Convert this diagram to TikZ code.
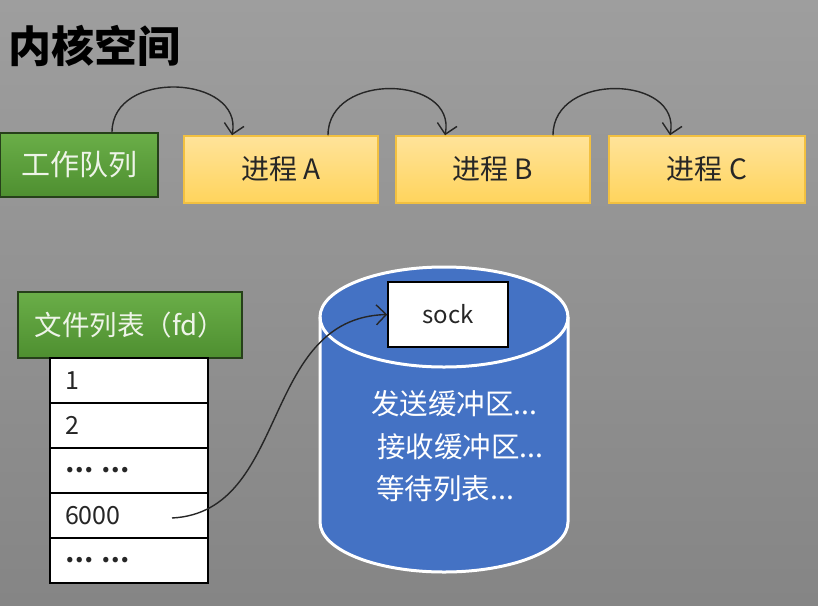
\documentclass[tikz,border=0pt]{standalone}
\usepackage{fontspec}
\setmainfont{Noto Sans CJK SC}
\usetikzlibrary{arrows.meta}
\definecolor{bgtop}{HTML}{9E9E9E}
\definecolor{bgbot}{HTML}{858585}
\definecolor{gtop}{HTML}{6AAE48}
\definecolor{gbot}{HTML}{4E8F30}
\definecolor{gline}{HTML}{26401A}
\definecolor{gtext}{HTML}{EEF4E8}
\definecolor{ytop}{HTML}{FFE39A}
\definecolor{ybot}{HTML}{FFD45C}
\definecolor{yline}{HTML}{F2C040}
\definecolor{cylblue}{HTML}{4472C4}
\tikzset{
  greenbox/.style={draw=gline, line width=1.5pt, top color=gtop, bottom color=gbot,
    text=gtext, font=\fontsize{29}{32}\selectfont, inner sep=0pt},
  procbox/.style={draw=yline, line width=1.5pt, top color=ytop, bottom color=ybot,
    text=black!85, font=\fontsize{28}{32}\selectfont, minimum height=67pt, inner sep=0pt},
  fdrow/.style={draw=black, line width=1.2pt, fill=white, minimum width=158pt, minimum height=45pt,
    text width=128pt, inner xsep=15pt, align=left, font=\fontsize{25}{28}\selectfont, text=black!85},
  curvearrow/.style={draw=black!85, line width=1.4pt, -{Straight Barb[length=10pt,width=20pt,line width=1.4pt]}},
  cyltext/.style={text=white, font=\fontsize{28.5}{32}\selectfont, anchor=west, inner sep=0pt}
}
\begin{document}
\begin{tikzpicture}[x=1pt,y=-1pt]
\shade[top color=bgtop, bottom color=bgbot] (0,0) rectangle (818,605);
\useasboundingbox (0,0) rectangle (818,605);

\node[anchor=west, inner sep=0pt, font=\fontsize{43}{46}\selectfont\bfseries, text=black] (title) at (8,46) {内核空间};

\node[greenbox, minimum width=158pt, minimum height=64pt] (wq) at (79,165) {工作队列};
\node[procbox, minimum width=194pt] (pa) at (281,169.5) {进程 A};
\node[procbox, minimum width=194pt] (pb) at (493,169.5) {进程 B};
\node[procbox, minimum width=196pt] (pc) at (707,169.5) {进程 C};

\draw[curvearrow] ([xshift=33pt]wq.north) .. controls +(0,-64) and +(12,-60) .. ([xshift=-49pt]pa.north);
\draw[curvearrow] ([xshift=47pt]pa.north) .. controls +(0,-64) and +(12,-60) .. ([xshift=-48pt]pb.north);
\draw[curvearrow] ([xshift=60pt]pb.north) .. controls +(0,-64) and +(12,-60) .. ([xshift=-37pt]pc.north);

\node[greenbox, minimum width=224pt, minimum height=66pt, font=\fontsize{27.5}{30}\selectfont] (fd) at (130,325) {文件列表（fd）};
\node[fdrow] (r1) at (129,380.5) {1};
\node[fdrow] (r2) at (129,425.5) {2};
\node[fdrow] (r3) at (129,470.5) {\textbf{… …}};
\node[fdrow] (r4) at (129,515.5) {6000};
\node[fdrow] (r5) at (129,560.5) {\textbf{… …}};

% cylinder
\path[fill=cylblue, draw=white, line width=3pt]
  (320,317) -- (320,522) arc[start angle=180, end angle=360, x radius=124pt, y radius=50pt]
  -- (568,317) arc[start angle=0, end angle=180, x radius=124pt, y radius=50pt] -- cycle;
\draw[white, line width=3pt] (320,317) arc[start angle=180, end angle=360, x radius=124pt, y radius=50pt];

\node[draw=black, line width=1.5pt, fill=white, minimum width=120pt, minimum height=65pt,
  font=\fontsize{24}{28}\selectfont, text=black!85] (sock) at (448,314.5) {sock};

\node[cyltext] (t1) at (371,404) {发送缓冲区...};
\node[cyltext] (t2) at (377,447) {接收缓冲区...};
\node[cyltext] (t3) at (376,489) {等待列表...};

\coordinate (src) at (172,518);
\draw[curvearrow] (src) .. controls (290,512) and (260,318) .. (sock.west);
\end{tikzpicture}
\end{document}
